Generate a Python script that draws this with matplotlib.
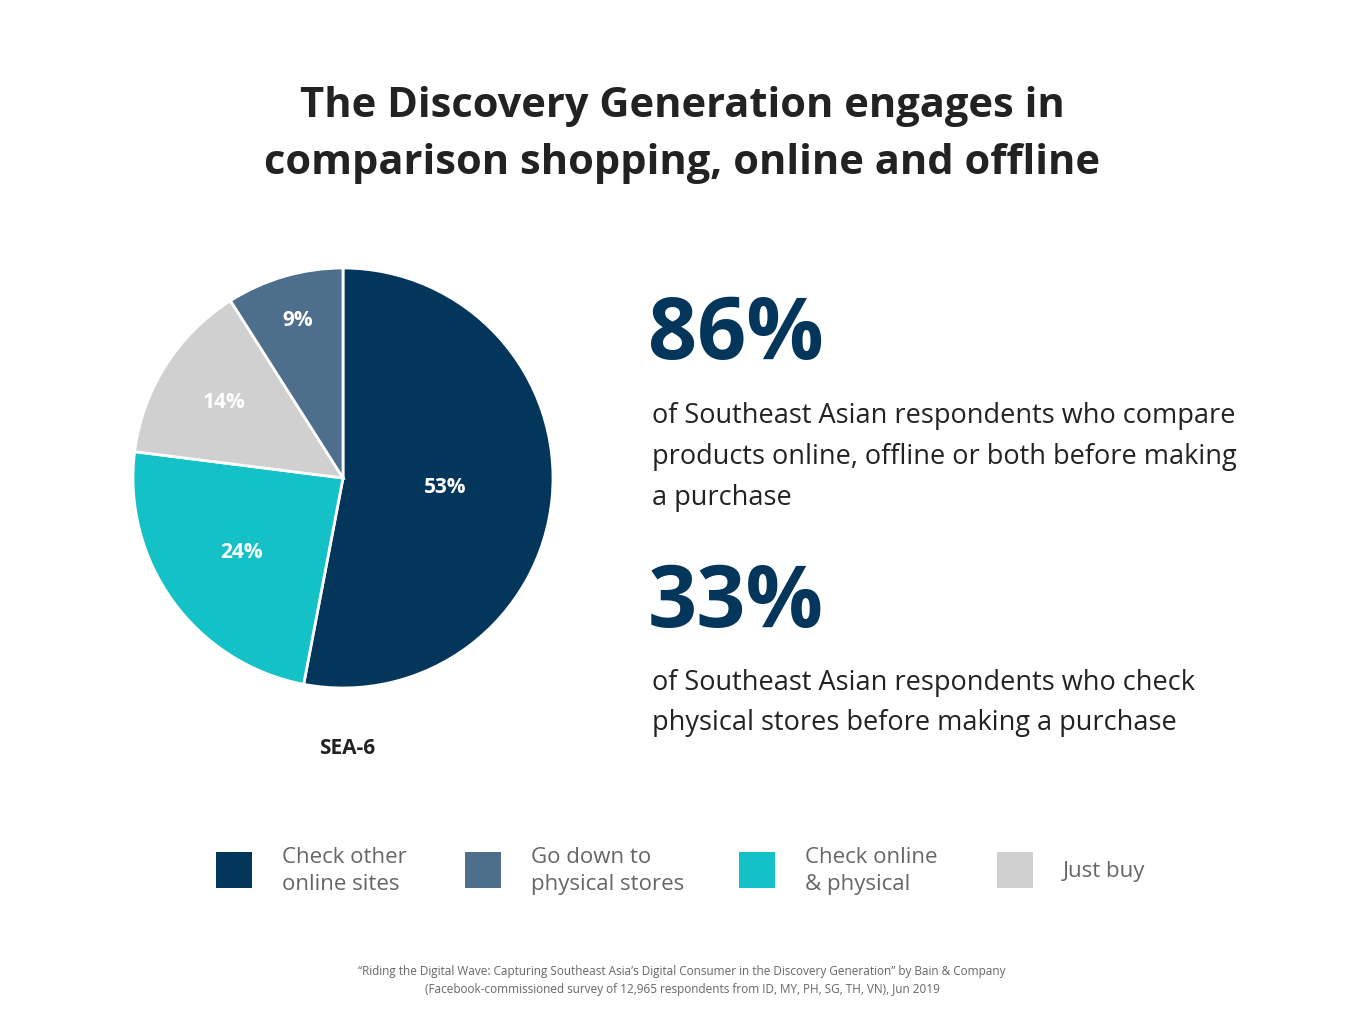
import numpy as np
import matplotlib.pyplot as plt
from matplotlib.patches import Rectangle

labels = ['Check other\nonline sites', 'Check online\n& physical', 'Just buy', 'Go down to\nphysical stores']
values = [53, 24, 14, 9]
colors = ['#04365c', '#13c1c6', '#d0d0d0', '#4e6f8c']
label_dist = [0.49, 0.6, 0.67, 0.78]

legend_order = [0, 3, 1, 2]
legend_x = [216, 465, 739, 997]

plt.rcParams['font.family'] = ['Open Sans', 'DejaVu Sans']
fig = plt.figure(figsize=(13.65, 10.24), dpi=100)
W, H = 1365, 1024

def fx(x): return x / W
def fy(y): return 1 - y / H

fig.text(fx(682), fy(135), 'The Discovery Generation engages in\ncomparison shopping, online and offline',
         ha='center', va='center', fontsize=30, fontweight='bold', color='#222222', linespacing=1.5)

r = 210
ax = fig.add_axes([fx(343 - r), fy(478 + r), 2 * r / W, 2 * r / H])
wedges, _ = ax.pie(values, colors=colors, startangle=90, counterclock=False,
                   wedgeprops=dict(edgecolor='white', linewidth=2))
for w, v, d in zip(wedges, values, label_dist):
    a = np.deg2rad((w.theta1 + w.theta2) / 2)
    ax.text(d * np.cos(a), d * np.sin(a), f'{v}%', ha='center', va='center',
            color='white', fontsize=15, fontweight='bold')
ax.set_aspect('auto')
ax.set_xlim(-1, 1); ax.set_ylim(-1, 1)

fig.text(fx(347), fy(748), 'SEA-6', ha='center', va='center', fontsize=15, fontweight='bold', color='#222222')

navy = '#04365c'
fig.text(fx(648), fy(337), '86%', ha='left', va='center', fontsize=62, fontweight='bold', color=navy)
fig.text(fx(652), fy(457), 'of Southeast Asian respondents who compare\nproducts online, offline or both before making\na purchase',
         ha='left', va='center', fontsize=19.5, color='#222222', linespacing=1.6)
fig.text(fx(648), fy(605), '33%', ha='left', va='center', fontsize=62, fontweight='bold', color=navy)
fig.text(fx(652), fy(703), 'of Southeast Asian respondents who check\nphysical stores before making a purchase',
         ha='left', va='center', fontsize=19.5, color='#222222', linespacing=1.6)

for i, x in zip(legend_order, legend_x):
    fig.patches.append(Rectangle((fx(x), fy(888)), 36 / W, 36 / H, transform=fig.transFigure,
                                 facecolor=colors[i], edgecolor='none'))
    fig.text(fx(x + 66), fy(871), labels[i], ha='left', va='center', fontsize=16,
             color='#666666', linespacing=1.4)

fig.text(fx(682), fy(980), '\u201cRiding the Digital Wave: Capturing Southeast Asia\u2019s Digital Consumer in the Discovery Generation\u201d by Bain & Company\n(Facebook-commissioned survey of 12,965 respondents from ID, MY, PH, SG, TH, VN), Jun 2019',
         ha='center', va='center', fontsize=8.5, color='#666666', linespacing=1.5)

fig.savefig('out.png', dpi=100, facecolor='white')
